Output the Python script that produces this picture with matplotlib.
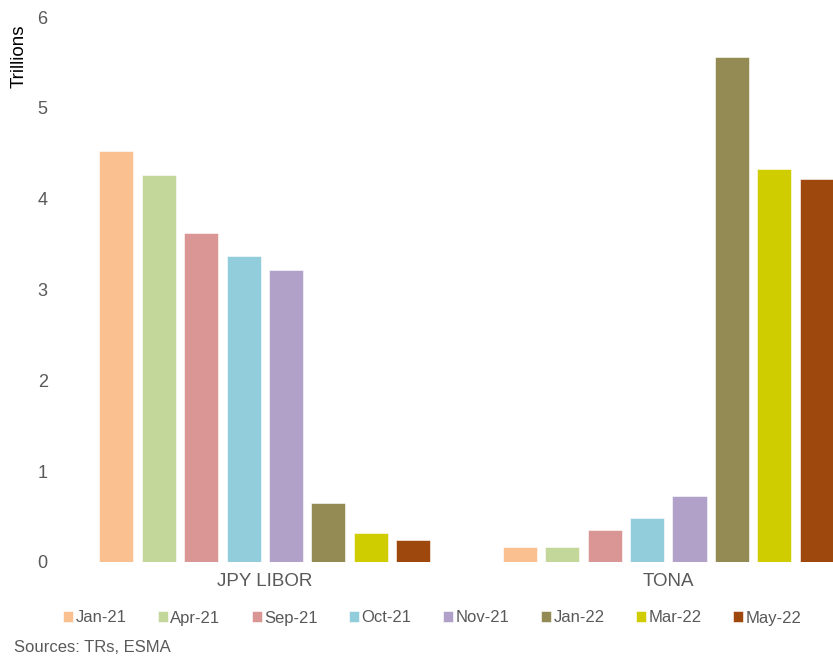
import numpy as np
import matplotlib
matplotlib.use("Agg")
import matplotlib.pyplot as plt

plt.rcParams['font.family'] = ['Liberation Sans', 'DejaVu Sans']

# Data
categories = ['JPY LIBOR', 'TONA']
periods = ['Jan-21', 'Apr-21', 'Sep-21', 'Oct-21', 'Nov-21', 'Jan-22', 'Mar-22', 'May-22']
jpy_libor = [4.53, 4.26, 3.62, 3.37, 3.22, 0.65, 0.32, 0.24]
tona = [0.16, 0.16, 0.35, 0.48, 0.73, 5.56, 4.33, 4.22]
colors = ['#FAC090', '#C4D79B', '#DA9694', '#92CDDC', '#B1A0C7', '#948A54', '#CFCD00', '#9E480E']

values = np.array([jpy_libor, tona])

fig = plt.figure(figsize=(8.33, 6.59), dpi=100)
ax = fig.add_axes([63 / 833, 1 - 562 / 659, 1 - 63 / 833, (562 - 17) / 659])

x = np.arange(len(categories))
pitch = 42.4 / 403
width = 34 / 403
for i, (period, col) in enumerate(zip(periods, colors)):
    offset = (i - (len(periods) - 1) / 2) * pitch
    ax.bar(x + offset, values[:, i], width=width, color=col, label=period,
           edgecolor='white', linewidth=0.4)

ax.set_xlim(-0.5, (833 - 265.5) / 403)
ax.set_ylim(0, 6)
ax.set_yticks(range(0, 7))
ax.set_xticks(x)
ax.set_xticklabels(categories)
for s in ax.spines.values():
    s.set_visible(False)
ax.tick_params(axis='both', length=0, colors='#595959')
ax.tick_params(axis='y', pad=11, labelsize=13)
ax.tick_params(axis='x', pad=8, labelsize=13.5)

fig.text(19 / 833, 1 - 25 / 659, 'Trillions', rotation=90, ha='center', va='top',
         fontsize=13.5, color='black')

fig.legend(loc='center left', bbox_to_anchor=(63 / 833, 1 - 618 / 659), ncol=8,
           frameon=False, fontsize=12, handlelength=0.6, handleheight=0.6,
           handletextpad=0.15, columnspacing=1.88, labelcolor='#595959',
           borderaxespad=0, borderpad=0)

fig.text(14 / 833, 1 - 647 / 659, 'Sources: TRs, ESMA', ha='left', va='center',
         fontsize=12, color='#595959')

fig.savefig('out.png', dpi=100)
